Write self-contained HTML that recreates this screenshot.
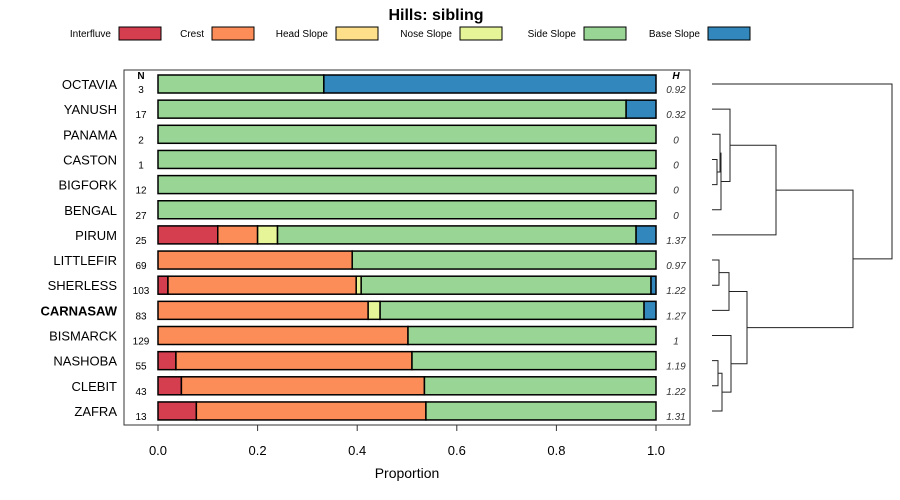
<!DOCTYPE html>
<html><head><meta charset="utf-8"><style>
body{margin:0;background:#fff;}
svg{display:block;font-family:"Liberation Sans",sans-serif;}
</style></head><body>
<svg id="chart" width="900" height="500">
<text x="436" y="20" text-anchor="middle" font-size="16" font-weight="bold">Hills: sibling</text>
<g id="legend"></g>
<rect x="124" y="70" width="566" height="355" fill="none" stroke="#333" stroke-width="1"/>
<text x="141" y="79" text-anchor="middle" font-size="10" font-weight="bold">N</text>
<text x="676" y="79" text-anchor="middle" font-size="10" font-weight="bold" font-style="italic">H</text>
<g id="bars"></g>
<g id="axis"></g>
<text x="407" y="478" text-anchor="middle" font-size="14">Proportion</text>
<g id="dendro" stroke="#222" stroke-width="1" fill="none"></g>
</svg>
<script>
const classes=["Interfluve","Crest","Head Slope","Nose Slope","Side Slope","Base Slope"];
const colors=["#D53E4F","#FC8D59","#FEE08B","#E6F598","#99D594","#3288BD"];
const names=["OCTAVIA","YANUSH","PANAMA","CASTON","BIGFORK","BENGAL","PIRUM","LITTLEFIR","SHERLESS","CARNASAW","BISMARCK","NASHOBA","CLEBIT","ZAFRA"];
const nVals=[3,17,2,1,12,27,25,69,103,83,129,55,43,13];
const hVals=["0.92","0.32","0","0","0","0","1.37","0.97","1.22","1.27","1","1.19","1.22","1.31"];
const interfluve=[0,0,0,0,0,0,0.12,0,0.02,0,0,0.036,0.047,0.077];
const crest=[0,0,0,0,0,0,0.08,0.39,0.378,0.422,0.502,0.474,0.488,0.461];
const headSlope=[0,0,0,0,0,0,0,0,0,0,0,0,0,0];
const noseSlope=[0,0,0,0,0,0,0.04,0,0.01,0.024,0,0,0,0];
const sideSlope=[0.333,0.94,1,1,1,1,0.72,0.61,0.582,0.53,0.498,0.49,0.465,0.462];
const baseSlope=[0.667,0.06,0,0,0,0,0.04,0,0.01,0.024,0,0,0,0];
const series=[interfluve,crest,headSlope,noseSlope,sideSlope,baseSlope];
const ticks=[0,0.2,0.4,0.6,0.8,1.0];
const tickLabels=["0.0","0.2","0.4","0.6","0.8","1.0"];
// dendrogram merges: [childA, childB, height]; leaves 0..13, nodes 14+
const merges=[[3,4,717],[2,14,720],[15,5,721],[1,16,730],[17,6,776],[7,8,719],[19,9,729],[11,12,718],[21,13,722],[10,22,731],[20,23,747],[18,24,853],[0,25,892]];

const NS="http://www.w3.org/2000/svg";
function el(t,a,p){const e=document.createElementNS(NS,t);for(const k in a)e.setAttribute(k,a[k]);p.appendChild(e);return e;}
const X=v=>158+v*498;
const Y=i=>84+i*25.15;
const bars=document.getElementById('bars');
names.forEach((nm,i)=>{
  const lab=el('text',{x:117,y:Y(i)+5,'text-anchor':'end','font-size':13},bars);
  lab.textContent=nm;
  if(nm==="CARNASAW")lab.setAttribute('font-weight','bold');
  
  
  const n=el('text',{x:141,y:Y(i)+9,'text-anchor':'middle','font-size':10},bars);
  n.textContent=nVals[i];
  
  
  const h=el('text',{x:676,y:Y(i)+9,'text-anchor':'middle','font-size':10,'font-style':'italic',fill:'#333'},bars);
  h.textContent=hVals[i];
  
  
  let cum=0;
  series.forEach((s,k)=>{
    const v=s[i]; if(v<=0)return;
    const r=el('rect',{x:X(cum),y:Y(i)-9,width:v*498,height:18,fill:colors[k],stroke:'#000','stroke-width':1.5},bars);
    
    
    cum+=v;
  });
});
const ax=document.getElementById('axis');
ticks.forEach((t,i)=>{
  el('line',{x1:X(t),x2:X(t),y1:425,y2:431,stroke:'#333'},ax);
  const tx=el('text',{x:X(t),y:455,'text-anchor':'middle','font-size':13},ax);
  tx.textContent=tickLabels[i];
  
  
});
const lg=document.getElementById('legend');
const lgBox=[119,212,336,460,584,708];
classes.forEach((c,i)=>{
  const t=el('text',{x:lgBox[i]-8,y:37,'text-anchor':'end','font-size':10},lg);
  t.textContent=c;
  
  
  const r=el('rect',{x:lgBox[i],y:27,width:42,height:13,fill:colors[i],stroke:'#000','stroke-width':1},lg);
  
  
});
const dg=document.getElementById('dendro');
const pos=names.map((n,i)=>({x:712,y:Y(i)}));
merges.forEach(m=>{
  const a=pos[m[0]],b=pos[m[1]],h=m[2];
  const p=el('path',{d:`M${a.x},${a.y}H${h}V${b.y}H${b.x}`},dg);
  
  
  pos.push({x:h,y:(a.y+b.y)/2});
});
</script>
</body></html>
